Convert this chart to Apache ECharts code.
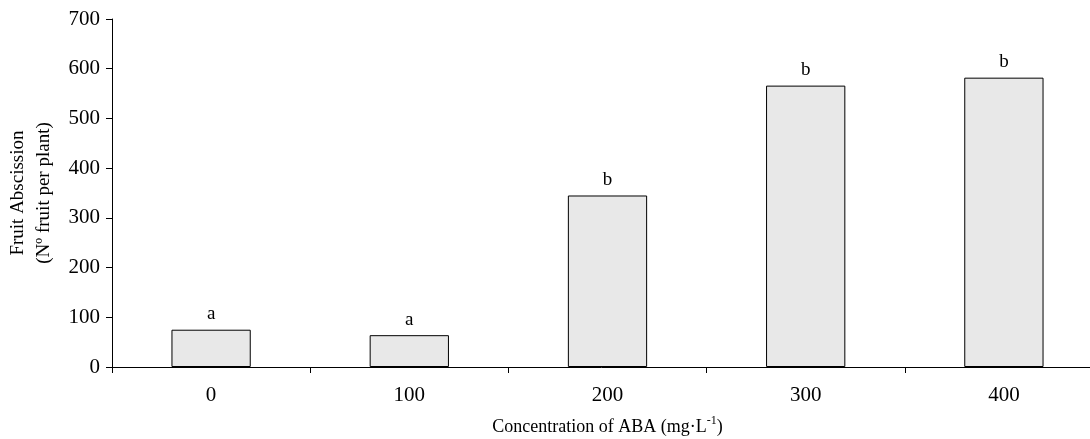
<!DOCTYPE html>
<html>
<head>
<meta charset="utf-8">
<script src="https://cdn.jsdelivr.net/npm/echarts@6/dist/echarts.min.js"></script>
<style>
    html, body { margin: 0; padding: 0; background: #fff; }
    #chart { width: 1090px; height: 439px; }
</style>
</head>
<body>
<div id="chart"></div>
<script>
const categories = ['0', '100', '200', '300', '400']
const abscission = [75, 64, 345, 566, 582]
const letters = ['a', 'a', 'b', 'b', 'b']
const yTicks = { min: 0, max: 700, interval: 100 }

;(function () {
    const myChart = echarts.init(document.getElementById('chart'))
    const font = 'Liberation Serif, Times New Roman, serif'

    const option = {
        animation: false,
        textStyle: { fontFamily: font },
        grid: {
            left: 112,
            right: -13,
            top: 19,
            bottom: 72,
            containLabel: false,
            outerBoundsMode: 'none'
        },
        xAxis: {
            type: 'category',
            data: categories,
            name: 'Concentration of ABA (mg·L{sup|-1})',
            nameLocation: 'middle',
            nameGap: 48,
            nameTextStyle: {
                fontFamily: font,
                fontSize: 18,
                color: '#000',
                rich: {
                    sup: { fontFamily: font, fontSize: 12, color: '#000', verticalAlign: 'top', padding: [0, 0, 12, 0] }
                }
            },
            axisLine: { lineStyle: { color: '#000', width: 1 } },
            axisTick: { show: true, length: 6, lineStyle: { color: '#000' } },
            axisLabel: { color: '#000', fontSize: 21, fontFamily: font, margin: 18 },
            splitLine: { show: false }
        },
        yAxis: {
            type: 'value',
            min: yTicks.min,
            max: yTicks.max,
            interval: yTicks.interval,
            name: 'Fruit Abscission\n(Nº fruit per plant)',
            nameLocation: 'middle',
            nameRotate: 90,
            nameGap: 55,
            nameTextStyle: { fontFamily: font, fontSize: 19, color: '#000', lineHeight: 26 },
            axisLine: { show: true, lineStyle: { color: '#000', width: 1 } },
            axisTick: { show: true, length: 6, lineStyle: { color: '#000' } },
            axisLabel: { color: '#000', fontSize: 21, fontFamily: font, margin: 12 },
            splitLine: { show: false }
        },
        series: [
            {
                type: 'bar',
                data: abscission,
                barWidth: '40%',
                itemStyle: { color: '#e8e8e8', borderColor: '#000', borderWidth: 1 },
                label: {
                    show: true,
                    position: 'top',
                    distance: 6,
                    fontFamily: font,
                    fontSize: 19,
                    color: '#000',
                    formatter: function (p) { return letters[p.dataIndex] }
                }
            }
        ]
    }

    myChart.setOption(option)
})()
</script>
</body>
</html>
